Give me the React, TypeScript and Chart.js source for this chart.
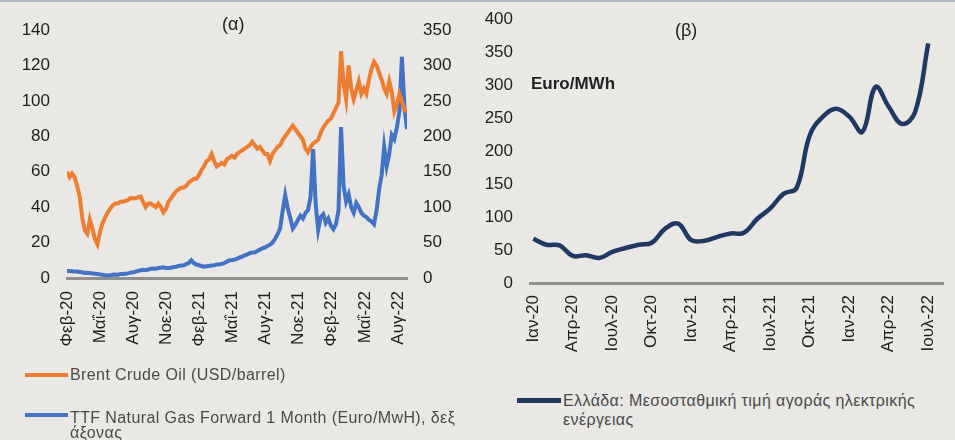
import React, { useEffect, useRef } from "react";
import { Chart, registerables } from "chart.js";

Chart.register(...registerables);

// ---------- Panel (α): weekly observations from early Feb 2020 ----------
const brentOil: number[] = [
  60, 57, 59, 57, 52, 46, 34, 27, 25, 33,
  28, 22, 19, 26, 31, 34, 37, 39, 41, 42,
  42, 43, 43, 43.5, 44, 45, 45, 45, 45.5, 46,
  43, 40, 42, 42, 41, 40, 42, 40, 37, 39,
  43, 45, 47, 49, 50, 51, 51, 52, 54, 55,
  56, 56, 58, 61, 63, 66, 67, 70, 66, 63,
  64, 65, 64, 67, 68, 69, 68, 70, 71, 72,
  73, 74, 75, 77, 75, 73, 74, 72, 70, 70,
  66, 70, 72, 74, 75, 78, 80, 82, 84, 86,
  84, 82, 80, 78, 73, 71, 74, 76, 77, 78,
  82, 85, 87, 89, 90, 93, 96, 99, 128, 110,
  101, 120, 107, 101, 106, 111, 104, 107, 104, 112,
  118, 122, 120, 116, 112, 107, 104, 111, 105, 94,
  98, 104, 100, 95, 94,
];

const ttfGas: number[] = [
  10, 10, 9.5, 9, 9, 8.5, 8, 7, 7.5, 7,
  6.5, 6, 5.5, 5, 4.5, 4, 3.5, 4, 4.5, 5,
  4.5, 5.5, 5.5, 6, 6.5, 7.5, 8, 9, 10, 11,
  11.5, 11, 12, 13, 13.5, 13, 14, 14.5, 15, 14,
  14, 14.5, 15.5, 16, 17, 17.5, 18, 19.5, 21, 25,
  21, 19, 18, 17, 16, 16.5, 17, 17.5, 18, 19,
  19, 20, 21, 23, 25, 25, 26, 27, 29, 30,
  32, 33, 35, 36, 36, 38, 40, 42, 43, 45,
  47, 50, 55, 62, 70, 95, 117, 98, 85, 70,
  75, 82, 88, 84, 92, 96, 115, 182, 105, 68,
  86, 90, 78, 84, 74, 69, 76, 95, 213, 130,
  108, 118, 100, 92, 106, 100, 92, 88, 86, 82,
  80, 76, 95, 125, 145, 185, 158, 175, 202, 196,
  212, 235, 312, 240, 210,
];

const weekInMonths = 7 / 30.44;
const leftTickLabels: string[] = [
  "Φεβ-20", "Μαΐ-20", "Αυγ-20", "Νοε-20", "Φεβ-21", "Μαΐ-21",
  "Αυγ-21", "Νοε-21", "Φεβ-22", "Μαΐ-22", "Αυγ-22",
];

// ---------- Panel (β): monthly Greek wholesale electricity price ----------
const greeceMonths: string[] = [
  "Ιαν-20", "Φεβ-20", "Μαρ-20", "Απρ-20", "Μαΐ-20", "Ιουν-20",
  "Ιουλ-20", "Αυγ-20", "Σεπ-20", "Οκτ-20", "Νοε-20", "Δεκ-20",
  "Ιαν-21", "Φεβ-21", "Μαρ-21", "Απρ-21", "Μαΐ-21", "Ιουν-21",
  "Ιουλ-21", "Αυγ-21", "Σεπ-21", "Οκτ-21", "Νοε-21", "Δεκ-21",
  "Ιαν-22", "Φεβ-22", "Μαρ-22", "Απρ-22", "Μαΐ-22", "Ιουν-22",
  "Ιουλ-22",
];
const greecePrice: number[] = [
  67, 58, 57, 41, 42, 38, 47, 53, 58, 61,
  82, 90, 65, 64, 70, 75, 76, 97, 113, 135,
  144, 224, 252, 264, 252, 229, 297, 267, 241, 259,
  363,
];

const FONT = "'Liberation Sans', Arial, Helvetica, sans-serif";
const TICK_COLOR = "#1e1e1e";
const BG = "#e9e8e4";

const fixY = (w: number) => (s: any) => {
  s.width = w;
  s.paddingTop = 0;
  s.paddingBottom = 0;
};
const fixX = (h: number) => (s: any) => {
  s.height = h;
  s.paddingLeft = 0;
  s.paddingRight = 0;
};

function LeftChart() {
  const ref = useRef<HTMLCanvasElement>(null);
  useEffect(() => {
    if (!ref.current) return;
    const tickFont = { family: FONT, size: 17 };
    const chart = new Chart(ref.current, {
      type: "line",
      data: {
        datasets: [
          {
            label: "Brent Crude Oil (USD/barrel)",
            data: brentOil.map((v, i) => ({ x: i * weekInMonths, y: v })),
            borderColor: "#ed7d31",
            borderWidth: 4,
            pointRadius: 0,
            tension: 0,
            yAxisID: "y",
          },
          {
            label: "TTF Natural Gas Forward 1 Month (Euro/MwH), δεξ άξονας",
            data: ttfGas.map((v, i) => ({ x: i * weekInMonths, y: v })),
            borderColor: "#4472c4",
            borderWidth: 4,
            pointRadius: 0,
            tension: 0,
            yAxisID: "y2",
          },
        ],
      },
      options: {
        animation: false,
        responsive: false,
        maintainAspectRatio: false,
        layout: { padding: { top: 28, left: 0, right: 0, bottom: 0 } },
        plugins: { legend: { display: false }, tooltip: { enabled: false } },
        scales: {
          x: {
            type: "linear",
            min: 0,
            max: (brentOil.length - 1) * weekInMonths,
            afterBuildTicks: (s: any) => {
              s.ticks = leftTickLabels.map((_, k) => ({ value: k * 3 }));
            },
            afterFit: fixX(94),
            ticks: {
              autoSkip: false,
              maxRotation: 90,
              minRotation: 90,
              padding: 13,
              color: TICK_COLOR,
              font: tickFont,
              callback: (v: any) => leftTickLabels[Math.round(Number(v) / 3)],
            },
            grid: { display: false, drawTicks: false },
            border: { display: true, color: "#8f8f8f", width: 3 },
          },
          y: {
            position: "left",
            min: 0,
            max: 140,
            afterFit: fixY(67),
            ticks: { stepSize: 20, padding: 17, color: TICK_COLOR, font: tickFont },
            grid: { display: false, drawTicks: false },
            border: { display: false },
          },
          y2: {
            position: "right",
            min: 0,
            max: 350,
            afterFit: fixY(68),
            ticks: { stepSize: 50, padding: 16, color: TICK_COLOR, font: tickFont },
            grid: { display: false, drawTicks: false },
            border: { display: false },
          },
        },
      },
    } as any);
    return () => chart.destroy();
  }, []);
  return (
    <canvas
      ref={ref}
      width={475}
      height={370}
      style={{ position: "absolute", left: 0, top: 0, width: 475, height: 370 }}
    />
  );
}

function RightChart() {
  const ref = useRef<HTMLCanvasElement>(null);
  useEffect(() => {
    if (!ref.current) return;
    const tickFont = { family: FONT, size: 17 };
    const chart = new Chart(ref.current, {
      type: "line",
      data: {
        datasets: [
          {
            label: "Ελλάδα: Μεσοσταθμική τιμή αγοράς ηλεκτρικής ενέργειας",
            data: greecePrice.map((v, i) => ({ x: i, y: v })),
            borderColor: "#1f3864",
            borderWidth: 4.5,
            pointRadius: 0,
            tension: 0.4,
          },
        ],
      },
      options: {
        animation: false,
        responsive: false,
        maintainAspectRatio: false,
        layout: { padding: { top: 17, left: 0, right: 12, bottom: 0 } },
        plugins: { legend: { display: false }, tooltip: { enabled: false } },
        scales: {
          x: {
            type: "linear",
            min: -0.25,
            max: 31.12,
            afterBuildTicks: (s: any) => {
              const t: any[] = [];
              for (let k = 0; k < greeceMonths.length; k += 3) t.push({ value: k });
              s.ticks = t;
            },
            afterFit: fixX(89),
            ticks: {
              autoSkip: false,
              maxRotation: 90,
              minRotation: 90,
              padding: 12,
              color: TICK_COLOR,
              font: tickFont,
              callback: (v: any) => greeceMonths[Math.round(Number(v))],
            },
            grid: { display: false, drawTicks: false },
            border: { display: true, color: "#8f8f8f", width: 3 },
          },
          y: {
            position: "left",
            min: 0,
            max: 400,
            afterFit: fixY(55),
            ticks: { stepSize: 50, padding: 17, color: TICK_COLOR, font: tickFont },
            grid: { display: false, drawTicks: false },
            border: { display: false },
          },
        },
      },
    } as any);
    return () => chart.destroy();
  }, []);
  return (
    <canvas
      ref={ref}
      width={480}
      height={370}
      style={{ position: "absolute", left: 475, top: 0, width: 480, height: 370 }}
    />
  );
}

const textBase: React.CSSProperties = {
  position: "absolute",
  fontFamily: FONT,
  whiteSpace: "nowrap",
  lineHeight: 1,
};

const legendText: React.CSSProperties = {
  ...textBase,
  fontSize: 16,
  color: "#4a4a4a",
  letterSpacing: "0.4px",
};

export default function App() {
  return (
    <div
      style={{
        position: "absolute",
        left: 0,
        top: 0,
        width: 955,
        height: 440,
        overflow: "hidden",
        background: BG,
        borderTop: "2px solid #aeb7c3",
        boxSizing: "border-box",
      }}
    >
      <LeftChart />
      <RightChart />

      <div style={{ ...textBase, left: 222, top: 13, fontSize: 18, color: "#222" }}>(α)</div>
      <div style={{ ...textBase, left: 675, top: 19, fontSize: 18, color: "#222" }}>(β)</div>
      <div style={{ ...textBase, left: 531, top: 73, fontSize: 17, fontWeight: "bold", color: "#222" }}>
        Euro/MWh
      </div>

      {/* Legend (α) */}
      <div style={{ position: "absolute", left: 25, top: 371, width: 43, height: 4, background: "#ed7d31" }} />
      <div style={{ ...legendText, left: 70, top: 365 }}>Brent Crude Oil (USD/barrel)</div>
      <div style={{ position: "absolute", left: 25, top: 411, width: 43, height: 4, background: "#4472c4" }} />
      <div style={{ ...legendText, left: 70, top: 408, lineHeight: "15px" }}>
        TTF Natural Gas Forward 1 Month (Euro/MwH), δεξ
        <br />
        άξονας
      </div>

      {/* Legend (β) */}
      <div style={{ position: "absolute", left: 517, top: 396, width: 44, height: 5, background: "#1f3864" }} />
      <div style={{ ...legendText, left: 563, top: 389, lineHeight: "19px" }}>
        Ελλάδα: Μεσοσταθμική τιμή αγοράς ηλεκτρικής
        <br />
        ενέργειας
      </div>
    </div>
  );
}
